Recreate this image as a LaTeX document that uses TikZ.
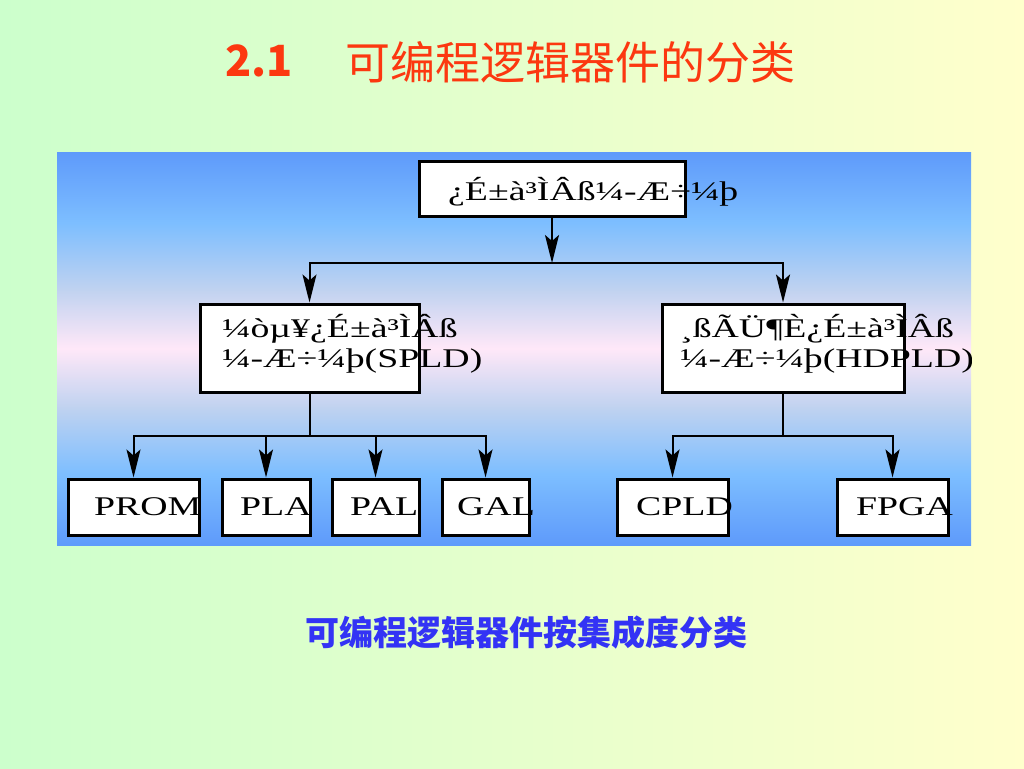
\documentclass[tikz,border=0pt]{standalone}
\usepackage{fontspec}
\setmainfont{Liberation Serif}
\newfontfamily\cjk{Noto Sans CJK SC}
\usetikzlibrary{arrows.meta}
\definecolor{bgL}{RGB}{204,255,204}
\definecolor{bgR}{RGB}{255,255,204}
\definecolor{pb}{RGB}{94,154,251}
\definecolor{pl}{RGB}{125,190,255}
\definecolor{pm}{RGB}{192,210,240}
\definecolor{pp}{RGB}{255,232,248}
\definecolor{titlered}{RGB}{252,56,16}
\definecolor{capblue}{RGB}{51,51,245}
\pgfdeclareverticalshading{panelshade}{100bp}{color(0bp)=(pb); color(25bp)=(pb); color(34bp)=(pl); color(42.5bp)=(pm); color(50bp)=(pp); color(57.5bp)=(pm); color(66bp)=(pl); color(75bp)=(pb); color(100bp)=(pb)}
\tikzset{
  boxn/.style={draw=black, line width=3pt, fill=white, inner sep=0pt},
  lbl/.style={anchor=base west, inner sep=0pt, font=\fontsize{27}{30}\selectfont},
  arr/.style={line width=2pt, -{Stealth[length=28pt,width=14pt,inset=6pt]}},
  ln/.style={line width=2pt},
}
\newcommand{\wide}[1]{\scalebox{1.4}[1]{#1}}
\begin{document}
\begin{tikzpicture}[x=1pt,y=-1pt]
\useasboundingbox (0,0) rectangle (1024,768);
\shade[left color=bgL, right color=bgR] (0,0) rectangle (1024,768);
\shade[shading=panelshade] (57,152) rectangle (971,545);

% title
\node[anchor=base west, inner sep=0pt, text=titlered] (titleNum) at (225,77)
  {\cjk\fontsize{43}{48}\selectfont\bfseries 2.1};
\node[anchor=base west, inner sep=0pt, text=titlered] (title) at (345,79)
  {\cjk\fontsize{45}{50}\selectfont 可编程逻辑器件的分类};

% boxes
\node[boxn, minimum width=266pt, minimum height=55pt] (top) at (552,188.5) {};
\node[boxn, minimum width=219pt, minimum height=88pt] (midL) at (309.5,348) {};
\node[boxn, minimum width=242pt, minimum height=88pt] (midR) at (783,348) {};
\node[boxn, minimum width=131pt, minimum height=56pt] (prom) at (133.5,507) {};
\node[boxn, minimum width=88pt, minimum height=56pt] (pla) at (266,507) {};
\node[boxn, minimum width=87pt, minimum height=56pt] (pal) at (375.5,507) {};
\node[boxn, minimum width=87pt, minimum height=56pt] (gal) at (485.5,507) {};
\node[boxn, minimum width=111pt, minimum height=56pt] (cpld) at (672.5,507) {};
\node[boxn, minimum width=111pt, minimum height=56pt] (fpga) at (892.5,507) {};

% junctions
\coordinate (j1) at (552,263);
\coordinate (j2) at (309.5,436);
\coordinate (j3) at (783,436);

% connectors
\draw[arr] (top.south) -- (j1);
\draw[arr] (j1) -| (midL.north);
\draw[arr] (j1) -| (midR.north);
\draw[ln] (midL.south) -- (j2);
\draw[arr] (j2) -| (prom.north);
\draw[arr] (j2) -| (pla.north);
\draw[arr] (j2) -| (pal.north);
\draw[arr] (j2) -| (gal.north);
\draw[ln] (midR.south) -- (j3);
\draw[arr] (j3) -| (cpld.north);
\draw[arr] (j3) -| (fpga.north);

% labels (overflowing boxes, clipped by panel)
\begin{scope}
\clip (57,152) rectangle (971,545);
\node[lbl] (tTop) at (448,200) {\wide{¿É±à³ÌÂß¼-Æ÷¼þ}};
\node[lbl] (tL1) at (222,337) {\wide{¼òµ¥¿É±à³ÌÂß}};
\node[lbl] (tL2) at (222,367) {\wide{¼-Æ÷¼þ(SPLD)}};
\node[lbl] (tR1) at (680,337) {\wide{¸ßÃÜ¶È¿É±à³ÌÂß}};
\node[lbl] (tR2) at (680,367) {\wide{¼-Æ÷¼þ(HDPLD)}};
\node[lbl] (tProm) at (94,515) {\wide{PROM}};
\node[lbl] (tPla) at (240,515) {\wide{PLA}};
\node[lbl] (tPal) at (350,515) {\wide{PAL}};
\node[lbl] (tGal) at (457,515) {\wide{GAL}};
\node[lbl] (tCpld) at (636,515) {\wide{CPLD}};
\node[lbl] (tFpga) at (856,515) {\wide{FPGA}};
\end{scope}

% caption
\node[inner sep=0pt, text=capblue] (cap) at (526,633)
  {\cjk\fontsize{34}{38}\selectfont\bfseries 可编程逻辑器件按集成度分类};
\end{tikzpicture}
\end{document}
